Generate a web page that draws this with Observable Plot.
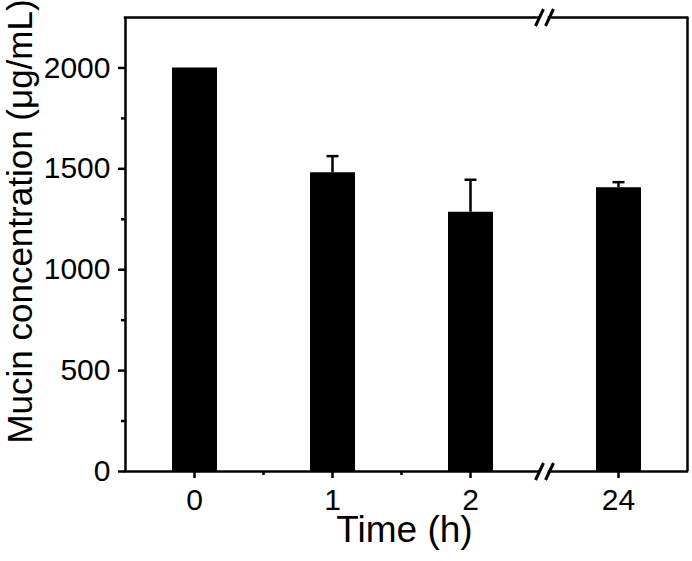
<!DOCTYPE html>
<html><head><meta charset="utf-8">
<script src="https://cdn.jsdelivr.net/npm/d3@7"></script>
<script src="https://cdn.jsdelivr.net/npm/@observablehq/plot@0.6"></script>
<style>body{margin:0;background:#fff}</style>
</head><body><div id="chart"></div>
<script>
const times = [0, 1, 2, 24];
const means = [2000, 1480, 1285, 1406];
const errors = [0, 83, 161, 28];
const yTicks = [0, 500, 1000, 1500, 2000];
const yMinorTicks = [250, 750, 1250, 1750];
const xMinorTicks = [0.5, 1.5];
const xLabel = "Time (h)";
const yLabel = "Mucin concentration (μg/mL)";

const yMax = 2250;
const xDomain = [-0.5, 2.5, 23.5, 24.5]; // axis break between 2.5 and 23.5
const W = 692, H = 561, mL = 125, mR = 5, mT = 17, mB = 90;

const data = times.map((t, i) => ({t, mean: means[i], err: errors[i]}));
const errData = data.filter(d => d.err > 0);

const frameSegs = [
  {x1: xDomain[0], x2: xDomain[1], y: 0},
  {x1: xDomain[2], x2: xDomain[3], y: 0},
  {x1: xDomain[0], x2: xDomain[1], y: yMax},
  {x1: xDomain[2], x2: xDomain[3], y: yMax}
];
const breakX = (xDomain[1] + xDomain[2]) / 2;

const capSymbol = {draw(ctx) { ctx.moveTo(-6, 0); ctx.lineTo(6, 0); }};
const breakSymbol = {draw(ctx) {
  ctx.moveTo(-9, 8.5); ctx.lineTo(-1, -8.5);
  ctx.moveTo(1, 8.5); ctx.lineTo(9, -8.5);
}};

const chart = Plot.plot({
  width: W, height: H,
  marginLeft: mL, marginRight: mR, marginTop: mT, marginBottom: mB,
  style: {fontFamily: "'Liberation Sans', Arial, sans-serif", color: "black", background: "white"},
  x: {type: "linear", domain: xDomain, range: [mL, 539, 549, W - mR]},
  y: {domain: [0, yMax]},
  marks: [
    Plot.ruleX(data, {x: "t", y1: 0, y2: "mean", stroke: "black", strokeWidth: 45}),
    Plot.ruleX(errData, {x: "t", y1: "mean", y2: d => d.mean + d.err, stroke: "black", strokeWidth: 2.5}),
    Plot.dot(errData, {x: "t", y: d => d.mean + d.err, symbol: capSymbol, fill: "none", stroke: "black", strokeWidth: 2.5, r: 6}),
    Plot.ruleX([xDomain[0], xDomain[3]], {y1: 0, y2: yMax, stroke: "black", strokeWidth: 2.5}),
    Plot.ruleY(frameSegs, {x1: "x1", x2: "x2", y: "y", stroke: "black", strokeWidth: 2.5, strokeLinecap: "square"}),
    Plot.dot([0, yMax], {x: () => breakX, y: d => d, symbol: breakSymbol, fill: "none", stroke: "black", strokeWidth: 3, r: 8}),
    Plot.axisY(yTicks, {tickSize: 7, tickPadding: 8, fontSize: 30, strokeWidth: 2.5, tickFormat: d => String(d), label: null}),
    Plot.axisY(yMinorTicks, {tickSize: 4, strokeWidth: 2.5, tickFormat: () => "", label: null}),
    Plot.axisX(times, {tickSize: 7, tickPadding: 10, fontSize: 30, strokeWidth: 2.5, tickFormat: d => String(d), label: null}),
    Plot.axisX(xMinorTicks, {tickSize: 4, strokeWidth: 2.5, tickFormat: () => "", label: null}),
    Plot.text([yLabel], {frameAnchor: "left", text: d => d, rotate: -90, dx: -105, dy: -23, fontSize: 35, textAnchor: "middle", lineAnchor: "middle"}),
    Plot.text([xLabel], {frameAnchor: "bottom", text: d => d, dx: -2, dy: 59, fontSize: 37, textAnchor: "middle", lineAnchor: "middle"})
  ]
});
document.getElementById("chart").appendChild(chart);
</script>
</body></html>
